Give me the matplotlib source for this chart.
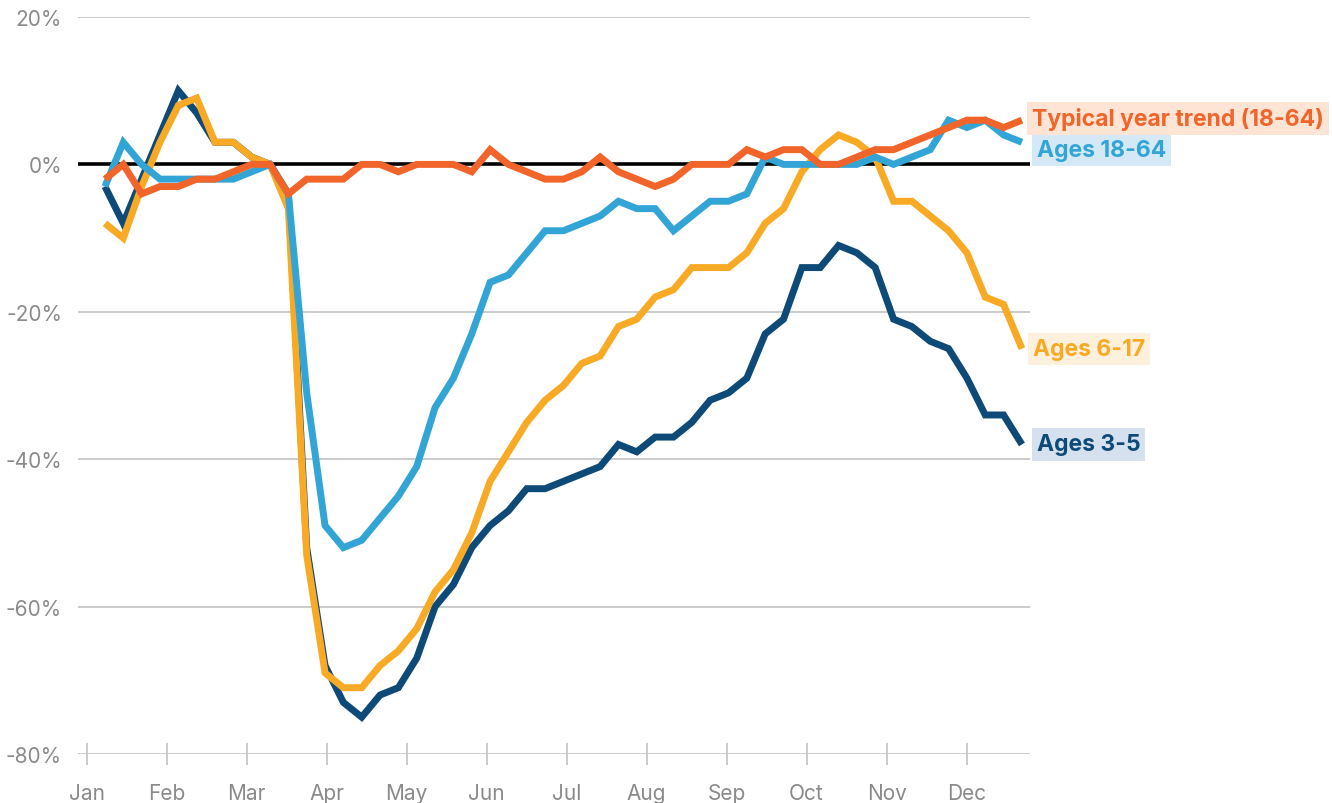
import matplotlib
matplotlib.use("Agg")
import matplotlib.pyplot as plt
import numpy as np

plt.rcParams['font.family'] = ['Inter', 'DejaVu Sans']

months = ["Jan", "Feb", "Mar", "Apr", "May", "Jun", "Jul", "Aug", "Sep", "Oct", "Nov", "Dec"]
weeks = list(range(1, 52))

typical = [-2, 0, -4, -3, -3, -2, -2, -1, 0, 0, -4, -2, -2, -2, 0, 0, -1, 0, 0, 0,
           -1, 2, 0, -1, -2, -2, -1, 1, -1, -2, -3, -2, 0, 0, 0, 2, 1, 2, 2, 0,
           0, 1, 2, 2, 3, 4, 5, 6, 6, 5, 6]
ages_18_64 = [-3, 3, 0, -2, -2, -2, -2, -2, -1, 0, -4, -31, -49, -52, -51, -48, -45, -41, -33, -29,
              -23, -16, -15, -12, -9, -9, -8, -7, -5, -6, -6, -9, -7, -5, -5, -4, 1, 0, 0, 0,
              0, 0, 1, 0, 1, 2, 6, 5, 6, 4, 3]
ages_6_17 = [-8, -10, -3, 3, 8, 9, 3, 3, 1, 0, -6, -53, -69, -71, -71, -68, -66, -63, -58, -55,
             -50, -43, -39, -35, -32, -30, -27, -26, -22, -21, -18, -17, -14, -14, -14, -12, -8, -6, -1, 2,
             4, 3, 1, -5, -5, -7, -9, -12, -18, -19, -25]
ages_3_5 = [-3, -8, -2, 4, 10, 7, 3, 3, 1, 0, -4, -52, -68, -73, -75, -72, -71, -67, -60, -57,
            -52, -49, -47, -44, -44, -43, -42, -41, -38, -39, -37, -37, -35, -32, -31, -29, -23, -21, -14, -14,
            -11, -12, -14, -21, -22, -24, -25, -29, -34, -34, -38]

series_labels = ["Ages 3-5", "Ages 6-17", "Ages 18-64", "Typical year trend (18-64)"]
colors = ["#0e4a78", "#f9aa25", "#33a4d6", "#f1652a"]
box_colors = ["#d6e1ef", "#fdf0dc", "#d4e8f6", "#fde4d4"]
label_y = [-38, -25, 1.9, 6.2]
label_x = [51.8, 51.6, 51.8, 51.55]

fig = plt.figure(figsize=(13.32, 8.04), dpi=100)
ax = fig.add_axes([78/1332, 1-755/804, (1030-78)/1332, (755-18)/804])

for s in ax.spines.values():
    s.set_visible(False)

ax.set_ylim(-80, 20)
ax.set_xlim(-0.47, 51.44)
yt = [-80, -60, -40, -20, 0, 20]
ax.set_yticks(yt)
ax.set_yticklabels([f"{v}%" for v in yt])
ax.yaxis.grid(True, color="#bdbdbd", linewidth=1.1, zorder=0)
ax.set_axisbelow(True)
ax.axhline(0, color="black", linewidth=2.6, zorder=1)

month_step = 80 / 18.34
ax.set_xticks([i * month_step for i in range(len(months))])
ax.set_xticklabels(months)

ax.tick_params(axis='y', length=0, pad=11.5, labelsize=15, labelcolor="#8a8a8a")
ax.tick_params(axis='x', direction='inout', length=16, width=1.1, color="#bdbdbd",
               pad=13, labelsize=15, labelcolor="#8a8a8a")

all_series = [ages_3_5, ages_6_17, ages_18_64, typical]
for i, (vals, c) in enumerate(zip(all_series, colors)):
    ax.plot(weeks, vals, color=c, linewidth=5.0, solid_joinstyle='miter',
            solid_capstyle='butt', zorder=3 + i)

for lab, c, bc, ly, lx in zip(series_labels, colors, box_colors, label_y, label_x):
    ax.text(lx, ly, lab, color=c, fontsize=16.5, fontweight='bold',
            va='center', ha='left', clip_on=False,
            bbox=dict(boxstyle='square,pad=0.22', facecolor=bc, edgecolor='none'))

fig.savefig("out.png", dpi=100)
